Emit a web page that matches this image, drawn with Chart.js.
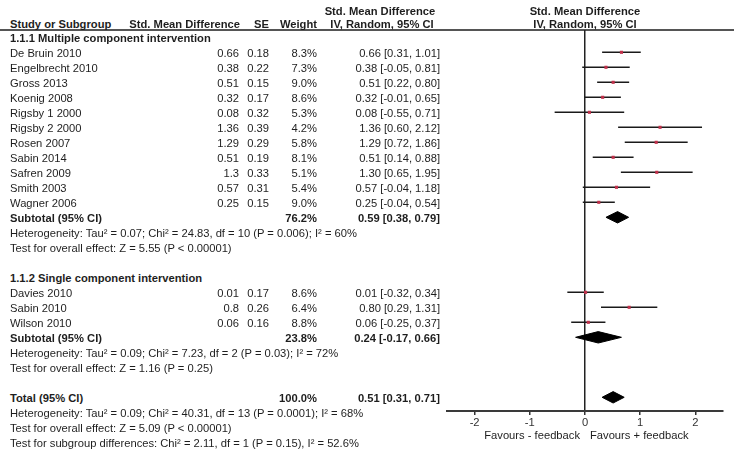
<!DOCTYPE html>
<html>
<head>
<meta charset="utf-8">
<script src="https://cdn.jsdelivr.net/npm/chart.js@4.4.1/dist/chart.umd.min.js"></script>
<style>
  body { margin: 0; background: #fff; }
  #page {
    position: relative; width: 734px; height: 451px; overflow: hidden;
    font-family: "Liberation Sans", Arial, sans-serif; font-size: 11.2px; color: #1e1e1e;
  }
  .t { position: absolute; height: 15px; line-height: 15px; white-space: nowrap; }
  .b { font-weight: bold; }
  #rule { position: absolute; left: 0; top: 29px; width: 734px; height: 2px; background: #555; }
  #forest { position: absolute; left: 440px; top: 0; }
</style>
</head>
<body>
<div id="page">
  <div id="rule"></div>
  <canvas id="forest" width="294" height="451"></canvas>
</div>
<script>
// 1.1.1 Multiple component intervention
const group1Names = ["De Bruin 2010", "Engelbrecht 2010", "Gross 2013", "Koenig 2008", "Rigsby 1 2000",
  "Rigsby 2 2000", "Rosen 2007", "Sabin 2014", "Safren 2009", "Smith 2003", "Wagner 2006"];
const group1Smd = [0.66, 0.38, 0.51, 0.32, 0.08, 1.36, 1.29, 0.51, 1.3, 0.57, 0.25];
const group1Se = [0.18, 0.22, 0.15, 0.17, 0.32, 0.39, 0.29, 0.19, 0.33, 0.31, 0.15];
const group1Weight = [8.3, 7.3, 9.0, 8.6, 5.3, 4.2, 5.8, 8.1, 5.1, 5.4, 9.0];
const group1Low = [0.31, -0.05, 0.22, -0.01, -0.55, 0.60, 0.72, 0.14, 0.65, -0.04, -0.04];
const group1High = [1.01, 0.81, 0.80, 0.65, 0.71, 2.12, 1.86, 0.88, 1.95, 1.18, 0.54];

// 1.1.2 Single component intervention
const group2Names = ["Davies 2010", "Sabin 2010", "Wilson 2010"];
const group2Smd = [0.01, 0.8, 0.06];
const group2Se = [0.17, 0.26, 0.16];
const group2Weight = [8.6, 6.4, 8.8];
const group2Low = [-0.32, 0.29, -0.25];
const group2High = [0.34, 1.31, 0.37];

// subtotal 1, subtotal 2, total
const pooledNames = ["Subtotal (95% CI)", "Subtotal (95% CI)", "Total (95% CI)"];
const pooledWeight = [76.2, 23.8, 100.0];
const pooledEst = [0.59, 0.24, 0.51];
const pooledLow = [0.38, -0.17, 0.31];
const pooledHigh = [0.79, 0.66, 0.71];

const groupTitles = ["1.1.1 Multiple component intervention", "1.1.2 Single component intervention"];
const group1Notes = ["Heterogeneity: Tau² = 0.07; Chi² = 24.83, df = 10 (P = 0.006); I² = 60%",
  "Test for overall effect: Z = 5.55 (P < 0.00001)"];
const group2Notes = ["Heterogeneity: Tau² = 0.09; Chi² = 7.23, df = 2 (P = 0.03); I² = 72%",
  "Test for overall effect: Z = 1.16 (P = 0.25)"];
const totalNotes = ["Heterogeneity: Tau² = 0.09; Chi² = 40.31, df = 13 (P = 0.0001); I² = 68%",
  "Test for overall effect: Z = 5.09 (P < 0.00001)",
  "Test for subgroup differences: Chi² = 2.11, df = 1 (P = 0.15), I² = 52.6%"];

const xTicks = [-2, -1, 0, 1, 2];
const favourLabels = ["Favours - feedback", "Favours + feedback"];

// layout
const rowTop = 37.3, rowStep = 15;
const plotTop = 30, plotBottom = 411;
const textShift = 1;
const page = document.getElementById("page");

function rowY(r) { return rowTop + rowStep * r; }

function addText(str, x, y, align, bold) {
  const el = document.createElement("div");
  el.className = "t" + (bold ? " b" : "");
  el.textContent = str;
  el.style.top = (y - 7.5 + textShift) + "px";
  if (align === "right") {
    el.style.left = (x - 400) + "px"; el.style.width = "400px"; el.style.textAlign = "right";
  } else if (align === "center") {
    el.style.left = (x - 200) + "px"; el.style.width = "400px"; el.style.textAlign = "center";
  } else {
    el.style.left = x + "px";
  }
  page.appendChild(el);
}

function ci(est, lo, hi) {
  return est.toFixed(2) + " [" + lo.toFixed(2) + ", " + hi.toFixed(2) + "]";
}

// headers
addText("Std. Mean Difference", 380, 10, "center", true);
addText("Std. Mean Difference", 585, 10, "center", true);
addText("Study or Subgroup", 10, 23, "left", true);
addText("Std. Mean Difference", 240, 23, "right", true);
addText("SE", 269, 23, "right", true);
addText("Weight", 317, 23, "right", true);
addText("IV, Random, 95% CI", 382, 23, "center", true);
addText("IV, Random, 95% CI", 585, 23, "center", true);

const studyRows = [];
const pooledRows = [];
let r = 0;

function addGroup(title, names, smd, se, weight, lo, hi, notes, p) {
  addText(title, 10, rowY(r), "left", true);
  r++;
  names.forEach((n, i) => {
    const y = rowY(r);
    addText(n, 10, y, "left", false);
    addText(String(smd[i]), 239, y, "right", false);
    addText(se[i].toFixed(2), 269, y, "right", false);
    addText(weight[i].toFixed(1) + "%", 317, y, "right", false);
    addText(ci(smd[i], lo[i], hi[i]), 440, y, "right", false);
    studyRows.push({ row: r, est: smd[i], lo: lo[i], hi: hi[i] });
    r++;
  });
  addPooled(p);
  notes.forEach(s => { addText(s, 10, rowY(r), "left", false); r++; });
  r++;
}

function addPooled(p) {
  const y = rowY(r);
  addText(pooledNames[p], 10, y, "left", true);
  addText(pooledWeight[p].toFixed(1) + "%", 317, y, "right", true);
  addText(ci(pooledEst[p], pooledLow[p], pooledHigh[p]), 440, y, "right", true);
  pooledRows.push({ row: r, est: pooledEst[p], lo: pooledLow[p], hi: pooledHigh[p] });
  r++;
}

addGroup(groupTitles[0], group1Names, group1Smd, group1Se, group1Weight, group1Low, group1High, group1Notes, 0);
addGroup(groupTitles[1], group2Names, group2Smd, group2Se, group2Weight, group2Low, group2High, group2Notes, 1);
addPooled(2);
totalNotes.forEach(s => { addText(s, 10, rowY(r), "left", false); r++; });

addText(favourLabels[0], 580, 434, "right", false);
addText(favourLabels[1], 590, 434, "left", false);

// forest plot
const halfDiamond = 0.38;
const datasets = [];

datasets.push({
  data: studyRows.map(s => ({ x: s.est, y: s.row })),
  showLine: false,
  pointStyle: "rect",
  pointRadius: 2.2,
  pointBackgroundColor: "#c0304a",
  pointBorderWidth: 0,
  order: 0,
});

studyRows.forEach(s => {
  datasets.push({
    data: [{ x: s.lo, y: s.row }, { x: s.hi, y: s.row }],
    borderColor: "#1a1a1a",
    borderWidth: 1.4,
    pointRadius: 0,
    order: 1,
  });
});

pooledRows.forEach(p => {
  datasets.push({
    data: [
      { x: p.lo, y: p.row },
      { x: p.est, y: p.row - halfDiamond },
      { x: p.hi, y: p.row },
      { x: p.est, y: p.row + halfDiamond },
      { x: p.lo, y: p.row },
    ],
    fill: "shape",
    backgroundColor: "#000",
    borderColor: "#000",
    borderWidth: 1,
    pointRadius: 0,
    order: 1,
  });
});

new Chart(document.getElementById("forest"), {
  type: "line",
  data: { datasets },
  options: {
    responsive: false,
    animation: false,
    layout: { padding: { left: 7, right: 11, top: plotTop, bottom: 0 } },
    plugins: { legend: { display: false }, tooltip: { enabled: false } },
    scales: {
      x: {
        type: "linear",
        min: -2.5,
        max: 2.5,
        afterBuildTicks: scale => { scale.ticks = xTicks.map(v => ({ value: v })); },
        afterFit: scale => { scale.height = 451 - plotBottom; },
        grid: {
          drawOnChartArea: true,
          color: ctx => (ctx.tick && ctx.tick.value === 0 ? "#222" : "rgba(0,0,0,0)"),
          lineWidth: 1.5,
          tickColor: "#333",
          tickWidth: 1.5,
          tickLength: 4,
        },
        border: { display: true, color: "#3a3a3a", width: 2 },
        ticks: {
          padding: 1,
          color: "#333",
          font: { family: "'Liberation Sans', Arial, sans-serif", size: 11.2 },
        },
      },
      y: {
        type: "linear",
        display: false,
        reverse: true,
        min: (plotTop - rowTop) / rowStep,
        max: (plotBottom - rowTop) / rowStep,
      },
    },
  },
});
</script>
</body>
</html>
